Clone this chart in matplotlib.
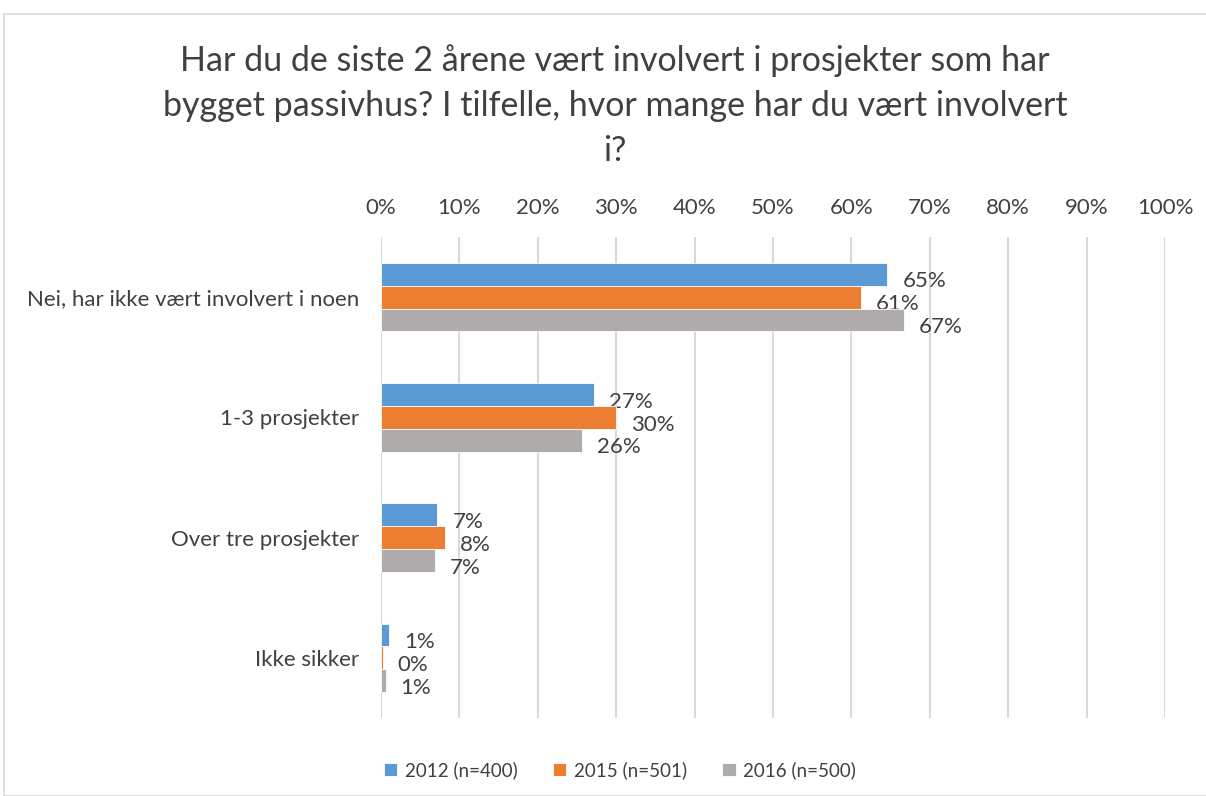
import numpy as np
import matplotlib.pyplot as plt
from matplotlib.patches import Rectangle

plt.rcParams['font.family'] = ['Lato', 'DejaVu Sans']

categories = ["Nei, har ikke vært involvert i noen", "1-3 prosjekter",
              "Over tre prosjekter", "Ikke sikker"]
series = ["2012 (n=400)", "2015 (n=501)", "2016 (n=500)"]
v2012 = [64.6, 27.2, 7.2, 1.0]
v2015 = [61.2, 30.0, 8.2, 0.2]
v2016 = [66.7, 25.7, 6.9, 0.6]
colors = ["#5b9bd5", "#ed7d31", "#afabab"]
title = ("Har du de siste 2 årene vært involvert i prosjekter som har\n"
         "bygget passivhus? I tilfelle, hvor mange har du vært involvert\ni?")

txt = "#404040"
fig = plt.figure(figsize=(12.06, 7.96), dpi=100)
fig.patches.append(Rectangle((4 / 1206, 0), 1.0, 1 - 14 / 796, transform=fig.transFigure,
                             fill=False, edgecolor="#d9d9d9", linewidth=1.2))
ax = fig.add_axes([381 / 1206, 78 / 796, 784 / 1206, 481 / 796])

y = np.arange(len(categories))
h = 0.19
for k, (vals, c, lab) in enumerate(zip([v2012, v2015, v2016], colors, series)):
    pos = y + (k - 1) * h
    ax.barh(pos, vals, height=h, color=c, edgecolor="white", linewidth=0.6, label=lab, zorder=3)
    for p, v in zip(pos, vals):
        ax.text(v + 1.9, p + 0.06, "%d%%" % round(v), va="center", ha="left",
                fontsize=16, color=txt)

ax.set_xlim(0, 100)
ax.set_ylim(3.5, -0.5)
ax.set_xticks(np.arange(0, 101, 10))
ax.set_xticklabels(["%d%%" % t for t in range(0, 101, 10)], fontsize=16, color=txt)
ax.xaxis.tick_top()
ax.tick_params(axis="x", length=0, pad=14)
ax.set_yticks(y)
ax.set_yticklabels(categories, fontsize=16, color=txt)
ax.tick_params(axis="y", length=0, pad=16)
ax.grid(axis="x", color="#d9d9d9", linewidth=1.5, zorder=0)
for s in ax.spines.values():
    s.set_visible(False)

fig.text(615 / 1206, 1 - 106 / 796, title, ha="center", va="center", fontsize=24.5,
         color=txt, linespacing=1.5)

leg = fig.legend(loc="center", bbox_to_anchor=(620 / 1206, 1 - 770 / 796), ncol=3,
                 frameon=False, fontsize=13.5, handlelength=0.7, handleheight=0.7,
                 columnspacing=1.9, handletextpad=0.4)
for t in leg.get_texts():
    t.set_color(txt)

fig.savefig("out.png", dpi=100)
